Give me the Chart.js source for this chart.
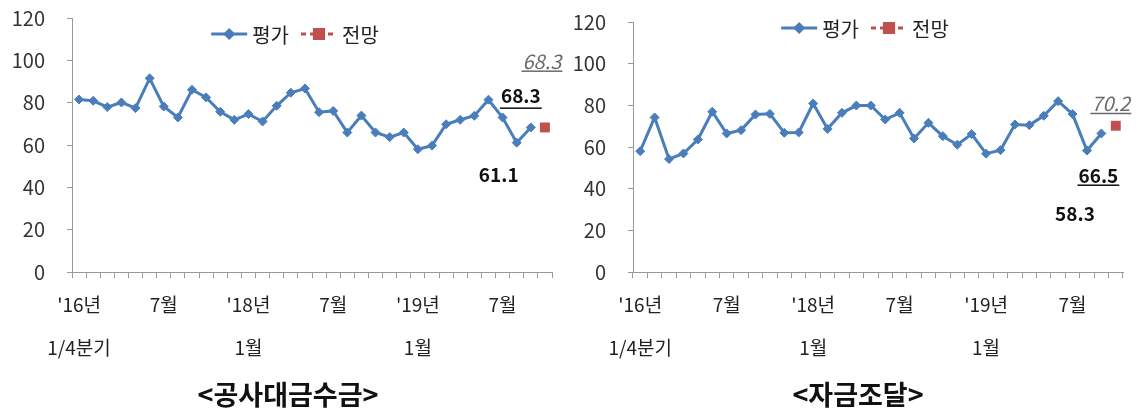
<!DOCTYPE html>
<html>
<head>
<meta charset="utf-8">
<script src="https://cdn.jsdelivr.net/npm/chart.js@4.4.0/dist/chart.umd.min.js"></script>
<style>
  body { margin: 0; background: #fff; width: 1144px; height: 408px; overflow: hidden; font-family: "Noto Sans CJK KR", sans-serif; }
  .panel { position: absolute; top: 0; width: 572px; height: 408px; }
  .title { position: absolute; left: 0; width: 572px; top: 377px; text-align: center; font-weight: bold; font-size: 27px; line-height: 34px; color: #111; }
</style>
</head>
<body>
<div class="panel" style="left:0">
  <canvas id="chartA" width="572" height="408"></canvas>
  <div class="title" style="left:2px">&lt;공사대금수금&gt;</div>
</div>
<div class="panel" style="left:572px">
  <canvas id="chartB" width="572" height="408"></canvas>
  <div class="title">&lt;자금조달&gt;</div>
</div>
<script>
// Categories: '16 quarterly, then monthly from '17.5 to '19.10 (last one is the forecast)
const categories = [
  "'16.1Q", "'16.2Q", "'16.3Q", "'16.4Q",
  "'17.5", "'17.6", "'17.7", "'17.8", "'17.9", "'17.10", "'17.11", "'17.12",
  "'18.1", "'18.2", "'18.3", "'18.4", "'18.5", "'18.6", "'18.7", "'18.8", "'18.9", "'18.10", "'18.11", "'18.12",
  "'19.1", "'19.2", "'19.3", "'19.4", "'19.5", "'19.6", "'19.7", "'19.8", "'19.9", "'19.10"
];

// Which categories carry a tick label, and what it says
const tickIndex = [0, 6, 12, 18, 24, 30];
const tickText = [["'16년", "1/4분기"], "7월", ["'18년", "1월"], "7월", ["'19년", "1월"], "7월"];

// <공사대금수금>
const paymentActual = [81.5, 80.9, 77.9, 80.1, 77.4, 91.5, 78.2, 73.0, 86.1, 82.5, 75.7, 71.9, 74.6, 71.1, 78.5, 84.7, 86.7,
  75.5, 76.1, 65.9, 73.9, 65.9, 63.7, 65.9, 58.0, 59.7, 69.8, 71.9, 73.8, 81.4, 73.0, 61.1, 68.3];
const paymentForecast = 68.3;

// <자금조달>
const fundingActual = [58.0, 74.2, 54.2, 56.9, 63.6, 76.9, 66.5, 68.1, 75.6, 75.9, 66.8, 67.0, 80.9, 68.7, 76.4, 79.9, 79.9,
  73.2, 76.4, 64.1, 71.6, 65.2, 61.1, 66.2, 56.8, 58.5, 70.8, 70.5, 75.0, 82.0, 75.8, 58.3, 66.5];
const fundingForecast = 70.2;

const yTicks = [0, 20, 40, 60, 80, 100, 120];

const FONT = '"Noto Sans CJK KR", "Noto Sans", sans-serif';
const BLUE = "#4a7ebb";
const RED = "#c0504d";
const AXIS = "#9a9a9a";

// Legend drawn inside the plot: line + marker, then label
const lineLegend = {
  id: "lineLegend",
  afterDraw(chart, args, opts) {
    const { ctx, chartArea } = chart;
    ctx.save();
    ctx.font = "20px " + FONT;
    ctx.textBaseline = "middle";
    const icon = 36, gap = 5, sep = 12;
    const items = chart.data.datasets.map((ds) => ({ ds, w: ctx.measureText(ds.label).width }));
    const total = items.reduce((s, it) => s + icon + gap + it.w, 0) + sep * (items.length - 1);
    let x = (chartArea.left + chartArea.right) / 2 + opts.dx - total / 2;
    const y = chartArea.top + opts.dy;
    items.forEach(({ ds, w }) => {
      ctx.strokeStyle = ds.borderColor;
      ctx.fillStyle = ds.backgroundColor;
      ctx.lineWidth = 3;
      ctx.setLineDash(ds.borderDash || []);
      ctx.beginPath();
      ctx.moveTo(x, y);
      ctx.lineTo(x + icon, y);
      ctx.stroke();
      ctx.setLineDash([]);
      Chart.helpers.drawPoint(ctx, { pointStyle: ds.pointStyle, radius: ds.legendRadius, rotation: 0, borderWidth: 1 }, x + icon / 2, y);
      ctx.fillStyle = "#222";
      ctx.fillText(ds.label, x + icon + gap, y + 1);
      x += icon + gap + w + sep;
    });
    ctx.restore();
  }
};

// Value tags next to the last points
const valueTags = {
  id: "valueTags",
  afterDatasetsDraw(chart, args, opts) {
    const { ctx } = chart;
    const xs = chart.scales.x, ys = chart.scales.y;
    ctx.save();
    ctx.textAlign = "center";
    ctx.textBaseline = "middle";
    opts.items.forEach((t) => {
      const v = chart.data.datasets[t.ds].data[t.i];
      const text = v.toFixed(1);
      const px = xs.getPixelForValue(t.i) + t.dx;
      const py = ys.getPixelForValue(v) + t.dy;
      ctx.font = t.italic ? "italic 20px " + FONT : "bold 19px " + FONT;
      ctx.fillStyle = t.italic ? "#6a6a6a" : "#111";
      ctx.fillText(text, px, py);
      if (t.underline) {
        const w = ctx.measureText(text).width;
        ctx.fillRect(px - w / 2 - 1, py + t.ul, w + 2, 1.5);
      }
    });
    ctx.restore();
  }
};

function makeChart(id, actual, forecast, setup) {
  const forecastSeries = actual.map(() => null).concat([forecast]);
  return new Chart(document.getElementById(id), {
    type: "line",
    data: {
      labels: categories,
      datasets: [
        {
          label: "평가",
          data: actual,
          borderColor: BLUE,
          backgroundColor: BLUE,
          borderWidth: 3,
          tension: 0,
          pointStyle: "rectRot",
          pointRadius: 4.5,
          pointBorderWidth: 1,
          pointBackgroundColor: BLUE,
          pointBorderColor: BLUE,
          legendRadius: 4
        },
        {
          label: "전망",
          data: forecastSeries,
          borderColor: RED,
          backgroundColor: RED,
          borderDash: [5, 4],
          showLine: false,
          pointStyle: "rect",
          pointRadius: 7,
          pointBorderWidth: 0,
          pointBackgroundColor: RED,
          legendRadius: 6.5
        }
      ]
    },
    options: {
      responsive: false,
      animation: false,
      layout: { padding: { top: setup.top, right: setup.right, bottom: 0, left: 0 } },
      plugins: {
        legend: { display: false },
        tooltip: { enabled: false },
        lineLegend: setup.legend,
        valueTags: { items: setup.tags }
      },
      scales: {
        x: {
          offset: true,
          afterFit: (scale) => {
            scale.height = 408 - setup.bottom;
            scale.paddingLeft = 0;
            scale.paddingRight = 0;
          },
          grid: { offset: true, drawOnChartArea: false, tickLength: 6, color: AXIS, lineWidth: 1 },
          border: { color: AXIS, width: 1 },
          ticks: {
            autoSkip: false,
            maxRotation: 0,
            padding: 5,
            color: "#222",
            font: { family: FONT, size: 19, lineHeight: "43px" },
            callback: (val, i) => {
              const k = tickIndex.indexOf(i);
              return k < 0 ? "" : tickText[k];
            }
          }
        },
        y: {
          min: 0,
          max: 120,
          afterFit: (scale) => {
            scale.width = setup.left;
            scale.paddingTop = 0;
            scale.paddingBottom = 0;
          },
          afterBuildTicks: (scale) => { scale.ticks = yTicks.map((v) => ({ value: v })); },
          grid: { drawOnChartArea: false, tickLength: 5, color: AXIS, lineWidth: 1 },
          border: { color: AXIS, width: 1 },
          ticks: { padding: 22, color: "#333", font: { family: FONT, size: 20 } }
        }
      }
    },
    plugins: [lineLegend, valueTags]
  });
}

makeChart("chartA", paymentActual, paymentForecast, {
  top: 18, right: 20, left: 72, bottom: 272,
  legend: { dx: -17, dy: 16 },
  tags: [
    { ds: 0, i: 31, dx: -18, dy: 32 },
    { ds: 0, i: 32, dx: -10, dy: -32, underline: true, ul: 12 },
    { ds: 1, i: 33, dx: -3, dy: -66, italic: true, underline: true, ul: 9 }
  ]
});

makeChart("chartB", fundingActual, fundingForecast, {
  top: 22, right: 21, left: 61, bottom: 272,
  legend: { dx: -13, dy: 6 },
  tags: [
    { ds: 0, i: 31, dx: -12, dy: 63 },
    { ds: 0, i: 32, dx: -3, dy: 42, underline: true, ul: 9 },
    { ds: 1, i: 33, dx: -5, dy: -22, italic: true, underline: true, ul: 9 }
  ]
});
</script>
</body>
</html>
